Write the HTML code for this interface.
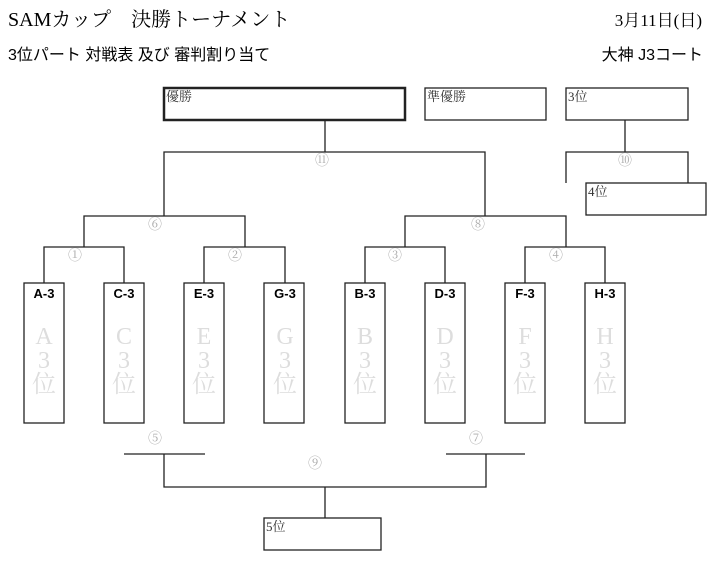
<!DOCTYPE html>
<html><head><meta charset="utf-8"><style>
html,body{margin:0;padding:0;background:#fff;}
svg{display:block}
.t{font-family:"Liberation Serif","Noto Serif CJK SC","Noto Sans CJK JP",serif;}
.s{font-family:"Liberation Sans","Noto Sans CJK JP",sans-serif;}
.c{font-family:"Noto Serif CJK SC","Liberation Serif",serif;font-size:14px;fill:#aaa;text-anchor:middle;}
.g{font-family:"Liberation Serif","Noto Serif CJK SC",serif;font-size:24px;fill:#ddd;text-anchor:middle;}
.tm{font-family:"Liberation Sans",sans-serif;font-size:13px;font-weight:bold;text-anchor:middle;}
</style></head><body>
<svg width="715" height="566" viewBox="0 0 715 566" xmlns="http://www.w3.org/2000/svg">
<text x="8" y="26" class="t" font-size="20">SAMカップ　決勝トーナメント</text>
<text x="702" y="26" class="t" font-size="17" text-anchor="end">3月11日(日)</text>
<text x="8" y="60" class="s" font-size="16">3位パート  対戦表 及び 審判割り当て</text>
<text x="703" y="60" class="s" font-size="16" text-anchor="end">大神 J3コート</text>
<g fill="none" stroke="#222" stroke-width="1.3">
<rect x="164" y="88" width="241" height="32" stroke-width="2.5"/>
<rect x="425" y="88" width="121" height="32"/>
<rect x="566" y="88" width="122" height="32"/>
<rect x="586" y="183" width="120" height="32"/>
<rect x="264" y="518" width="117" height="32"/>
<path d="M325 120V152M164 216V152H485V216M84 247V216H245V247M405 247V216H566V247"/>
<path d="M44 283V247H124V283M204 283V247H285V283M365 283V247H445V283M525 283V247H605V283"/>
<path d="M625 120V152M566 183V152H688V183"/>
<path d="M124 454H205M446 454H525M164 454V487H486V454M325 487V518"/>
<rect x="24" y="283" width="40" height="140"/><rect x="104" y="283" width="40" height="140"/>
<rect x="184" y="283" width="40" height="140"/><rect x="264" y="283" width="40" height="140"/>
<rect x="345" y="283" width="40" height="140"/><rect x="425" y="283" width="40" height="140"/>
<rect x="505" y="283" width="40" height="140"/><rect x="585" y="283" width="40" height="140"/>
</g>
<g class="t" font-size="13" fill="#333">
<text x="166" y="101">優勝</text><text x="427" y="101">準優勝</text><text x="568" y="101">3位</text>
<text x="588" y="196">4位</text><text x="266" y="531">5位</text>
</g>
<g class="c">
<text x="322" y="165">⑪</text><text x="625" y="165">⑩</text>
<text x="155" y="229">⑥</text><text x="478" y="229">⑧</text>
<text x="75" y="260">①</text><text x="235" y="260">②</text><text x="395" y="260">③</text><text x="556" y="260">④</text>
<text x="155" y="443">⑤</text><text x="476" y="443">⑦</text><text x="315" y="468">⑨</text>
</g>
<g class="tm">
<text x="44" y="298">A-3</text><text x="124" y="298">C-3</text><text x="204" y="298">E-3</text><text x="285" y="298">G-3</text>
<text x="365" y="298">B-3</text><text x="445" y="298">D-3</text><text x="525" y="298">F-3</text><text x="605" y="298">H-3</text>
</g>
<g class="g">
<text x="44" y="344">A</text><text x="44" y="368">3</text><text x="44" y="392">位</text>
<text x="124" y="344">C</text><text x="124" y="368">3</text><text x="124" y="392">位</text>
<text x="204" y="344">E</text><text x="204" y="368">3</text><text x="204" y="392">位</text>
<text x="285" y="344">G</text><text x="285" y="368">3</text><text x="285" y="392">位</text>
<text x="365" y="344">B</text><text x="365" y="368">3</text><text x="365" y="392">位</text>
<text x="445" y="344">D</text><text x="445" y="368">3</text><text x="445" y="392">位</text>
<text x="525" y="344">F</text><text x="525" y="368">3</text><text x="525" y="392">位</text>
<text x="605" y="344">H</text><text x="605" y="368">3</text><text x="605" y="392">位</text>
</g>
</svg>
</body></html>
